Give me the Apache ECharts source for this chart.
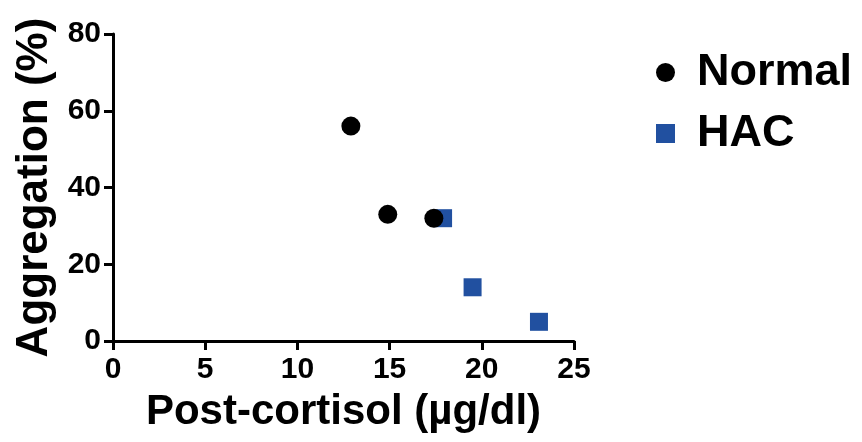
<!DOCTYPE html>
<html><head><meta charset="utf-8">
<script src="https://cdn.jsdelivr.net/npm/echarts@6/dist/echarts.min.js"></script>
<style>html,body{margin:0;padding:0;background:#fff}#c{width:862px;height:442px}</style>
</head><body><div id="c"></div>
<script>
const normalX = [12.9, 14.9, 17.4];
const normalY = [56, 33, 32];
const hacX = [17.9, 19.5, 23.1];
const hacY = [32, 14, 5];
const xTicks = [0, 5, 10, 15, 20, 25];
const yTicks = [0, 20, 40, 60, 80];
const FONT = '"Liberation Sans", Arial, sans-serif';
const chart = echarts.init(document.getElementById('c'));
const axisCommon = {
  axisLine: {show: true, lineStyle: {color: '#000', width: 3}},
  axisTick: {show: true, length: 9, lineStyle: {color: '#000', width: 3}},
  splitLine: {show: false},
  nameLocation: 'middle',
};
chart.setOption({
  animation: false,
  grid: {left: 113, right: 288, top: 34, bottom: 101, containLabel: false},
  xAxis: Object.assign({}, axisCommon, {
    type: 'value', min: xTicks[0], max: xTicks[xTicks.length-1], interval: 5,
    name: 'Post-cortisol (µg/dl)', nameGap: 50,
    nameTextStyle: {fontFamily: FONT, fontWeight: 'bold', fontSize: 42, color: '#000'},
    axisLabel: {fontFamily: FONT, fontWeight: 'bold', fontSize: 30, color: '#000', margin: 14}
  }),
  yAxis: Object.assign({}, axisCommon, {
    type: 'value', min: yTicks[0], max: yTicks[yTicks.length-1], interval: 20,
    name: 'Aggregation (%)', nameGap: 50,
    nameTextStyle: {fontFamily: FONT, fontWeight: 'bold', fontSize: 44, color: '#000'},
    axisLabel: {fontFamily: FONT, fontWeight: 'bold', fontSize: 30, color: '#000', margin: 12}
  }),
  legend: {
    orient: 'vertical', left: 651, top: 45, itemWidth: 19, itemHeight: 19, itemGap: 16,
    textStyle: {fontFamily: FONT, fontWeight: 'bold', fontSize: 45, lineHeight: 45, color: '#000', padding: [0,0,0,17]},
    data: [{name: 'Normal', icon: 'circle'}, {name: 'HAC', icon: 'rect'}]
  },
  series: [
    {name: 'HAC', type: 'scatter', symbol: 'rect', symbolSize: 18, itemStyle: {color: '#2150a0', opacity: 1},
     data: hacX.map((x, i) => [x, hacY[i]]), z: 2},
    {name: 'Normal', type: 'scatter', symbol: 'circle', symbolSize: 19, itemStyle: {color: '#000', opacity: 1},
     data: normalX.map((x, i) => [x, normalY[i]]), z: 3}
  ]
});
</script></body></html>
